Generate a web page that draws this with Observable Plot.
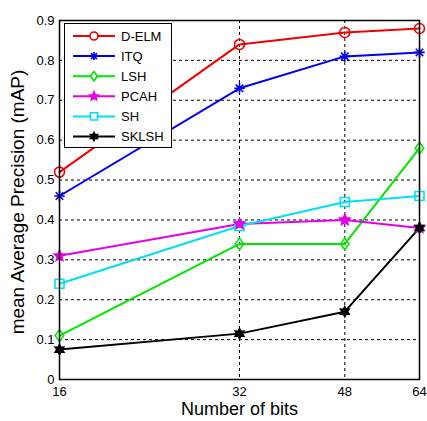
<!DOCTYPE html>
<html>
<head>
<meta charset="utf-8">
<script src="https://cdn.jsdelivr.net/npm/d3@7"></script>
<script src="https://cdn.jsdelivr.net/npm/@observablehq/plot@0.6"></script>
<style>
  html, body { margin: 0; padding: 0; background: #fff; }
  #chart { width: 427px; height: 421px; }
</style>
</head>
<body>
<div id="chart"></div>
<script>
// ---- data ----
const bits = [16, 32, 48, 64];
const seriesNames = ["D-ELM", "ITQ", "LSH", "PCAH", "SH", "SKLSH"];
const dElm  = [0.52, 0.84, 0.87, 0.88];
const itq   = [0.46, 0.73, 0.81, 0.82];
const lsh   = [0.11, 0.34, 0.34, 0.58];
const pcah  = [0.31, 0.39, 0.40, 0.38];
const sh    = [0.24, 0.385, 0.445, 0.46];
const sklsh = [0.075, 0.115, 0.17, 0.38];
const yTicks = [0, 0.1, 0.2, 0.3, 0.4, 0.5, 0.6, 0.7, 0.8, 0.9];

const seriesValues = [dElm, itq, lsh, pcah, sh, sklsh];
const seriesColors = ["#f00000", "#0000f0", "#00e600", "#e600e6", "#00e0f0", "#000000"];
const filledSeries = new Set(["ITQ", "PCAH", "SKLSH"]);

// ---- marker symbols ----
const rOf = size => Math.sqrt(size / Math.PI);
const circleSym = { draw(ctx, size) { const r = rOf(size); ctx.moveTo(r, 0); ctx.arc(0, 0, r, 0, 2 * Math.PI); } };
const asteriskSym = { draw(ctx, size) { const r = rOf(size) * 1.05;
  for (let k = 0; k < 4; k++) { const a = k * Math.PI / 4; ctx.moveTo(-r * Math.cos(a), -r * Math.sin(a)); ctx.lineTo(r * Math.cos(a), r * Math.sin(a)); } } };
const diamondSym = { draw(ctx, size) { const r = rOf(size); const rx = r * 0.85, ry = r * 1.15;
  ctx.moveTo(0, -ry); ctx.lineTo(rx, 0); ctx.lineTo(0, ry); ctx.lineTo(-rx, 0); ctx.closePath(); } };
function starPath(ctx, n, ro, ri) {
  for (let k = 0; k < 2 * n; k++) { const a = -Math.PI / 2 + k * Math.PI / n; const rr = k % 2 ? ri : ro;
    const x = rr * Math.cos(a), y = rr * Math.sin(a); if (k === 0) ctx.moveTo(x, y); else ctx.lineTo(x, y); }
  ctx.closePath();
}
const pentagramSym = { draw(ctx, size) { const r = rOf(size); starPath(ctx, 5, r * 1.1, r * 0.5); } };
const squareSym = { draw(ctx, size) { const s = rOf(size) * 0.9; ctx.rect(-s, -s, 2 * s, 2 * s); } };
const hexagramSym = { draw(ctx, size) { const r = rOf(size); starPath(ctx, 6, r * 1.0, r * 0.55); } };
const seriesSymbols = [circleSym, asteriskSym, diamondSym, pentagramSym, squareSym, hexagramSym];

// ---- long table ----
const rows = [];
seriesNames.forEach((name, i) => bits.forEach((b, j) => rows.push({ series: name, bits: b, value: seriesValues[i][j] })));

const font = "'Liberation Sans', Arial, sans-serif";

const chart = Plot.plot({
  width: 427,
  height: 421,
  marginLeft: 59,
  marginRight: 8,
  marginTop: 20,
  marginBottom: 42,
  style: { fontFamily: font, fontSize: "13px", color: "#000", background: "#fff" },
  x: { type: "log", domain: [16, 64] },
  y: { domain: [0, 0.9] },
  color: { domain: seriesNames, range: seriesColors },
  symbol: { domain: seriesNames, range: seriesSymbols },
  marks: [
    Plot.gridY(yTicks.slice(1, -1), { stroke: "#000", strokeOpacity: 1, strokeWidth: 1, strokeDasharray: "3,3" }),
    Plot.gridX(bits.slice(1, -1), { stroke: "#000", strokeOpacity: 1, strokeWidth: 1, strokeDasharray: "3,3" }),
    Plot.axisY(yTicks, { tickSize: 0, tickPadding: 5, label: null, fontSize: 13,
      tickFormat: d => d === 0 ? "0" : d.toFixed(1) }),
    Plot.axisX(bits, { tickSize: 0, tickPadding: 7, label: null, fontSize: 13, tickFormat: d => String(d) }),
    Plot.line(rows, { x: "bits", y: "value", z: "series", stroke: "series", strokeWidth: 2 }),
    Plot.dot(rows.filter(d => !filledSeries.has(d.series)), { x: "bits", y: "value", symbol: "series", stroke: "series", fill: "none", r: 5, strokeWidth: 1.6 }),
    Plot.dot(rows.filter(d => filledSeries.has(d.series)), { x: "bits", y: "value", symbol: "series", stroke: "series", fill: "series", r: 5, strokeWidth: 1.6 }),
    Plot.frame({ stroke: "#000", strokeWidth: 1.5 }),
    Plot.text(["Number of bits"], { frameAnchor: "bottom", dy: 35, fontSize: 18, fill: "#000", textAnchor: "middle" }),
    Plot.text(["mean Average Precision (mAP)"], { frameAnchor: "left", dx: -42, dy: 2, rotate: -90, fontSize: 19, fill: "#000", textAnchor: "middle" })
  ]
});

document.getElementById("chart").appendChild(chart);

// ---- legend (inside top-left of the plot area) ----
const svg = d3.select(chart);
const lg = svg.append("g").attr("font-family", font).attr("font-size", 13).attr("text-anchor", "start");
lg.append("rect").attr("x", 64.5).attr("y", 23.5).attr("width", 107).attr("height", 124)
  .attr("fill", "#fff").attr("stroke", "#000").attr("stroke-width", 1);
seriesNames.forEach((name, i) => {
  const y = 36 + i * 20.1;
  const c = seriesColors[i];
  lg.append("line").attr("x1", 73).attr("x2", 115).attr("y1", y).attr("y2", y)
    .attr("stroke", c).attr("stroke-width", 2);
  lg.append("path").attr("d", d3.symbol(seriesSymbols[i], Math.PI * 16)())
    .attr("transform", `translate(94,${y})`)
    .attr("stroke", c).attr("stroke-width", 1.6)
    .attr("fill", filledSeries.has(name) ? c : "#fff");
  lg.append("text").attr("x", 121).attr("y", y).attr("dy", "0.35em").attr("fill", "#000")
    .attr("text-anchor", "start").text(name);
});
</script>
</body>
</html>
